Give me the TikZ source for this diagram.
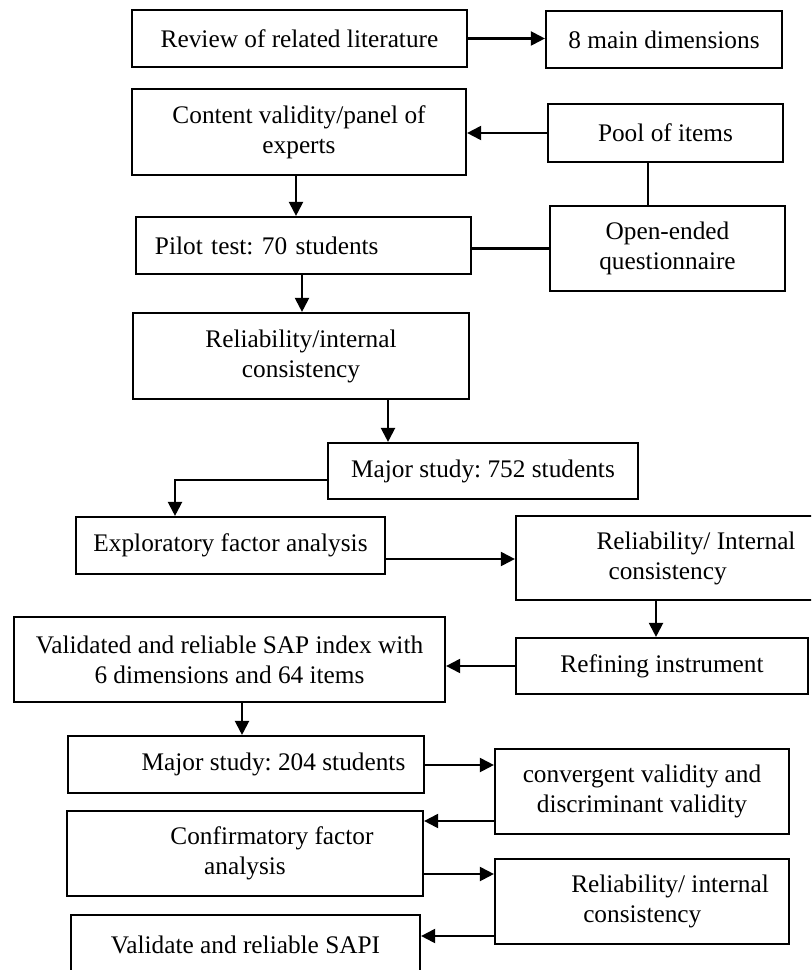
\documentclass[tikz,border=0pt]{standalone}
\usepackage{fontspec}
\setmainfont{Liberation Serif}
\usetikzlibrary{arrows.meta}
\newcommand{\recuo}{\hspace*{1.4cm}}

\begin{document}
\begin{tikzpicture}[
    x=0.025cm, y=-0.025cm,
    every node/.style={font=\fontsize{18}{21.3}\selectfont\frenchspacing},
    caixa/.style={draw, line width=1.5pt, inner sep=2pt, align=center},
    seta/.style={-{Triangle[length=10pt,width=10pt]}, line width=1.5pt},
    ligacao/.style={line width=1.5pt}
]
\useasboundingbox (0,0) rectangle (811,970);
\clip (0,0) rectangle (811,970);

% Revisao da literatura
\node[caixa, minimum width=8.375cm, minimum height=1.425cm] (revisao) at (299.5,38.5) {Review of related literature};
\node[caixa, minimum width=5.9cm, minimum height=1.425cm] (dimensoes) at (664,39.5) {8 main dimensions};
\draw[seta] (revisao.east) -- (revisao.east -| dimensoes.west);

% Validade de conteudo e teste piloto
\node[caixa, minimum width=8.35cm, minimum height=2.15cm] (conteudo) at (299,132) {Content validity/panel of\\experts};
\node[caixa, minimum width=5.875cm, minimum height=1.45cm] (itens) at (665.5,133) {Pool of items};
\node[caixa, minimum width=5.875cm, minimum height=2.125cm] (aberto) at (667.5,248.5) {Open-ended\\questionnaire};
\node[caixa, text width=7.425cm, inner xsep=0.475cm, align=left, minimum height=1.425cm] (piloto) at (303.5,245.5) {Pilot test: 70 students};
\node[caixa, minimum width=8.4cm, minimum height=2.15cm] (fiab) at (301,356) {Reliability/internal\\consistency};

\draw[seta] (itens.west) -- (itens.west -| conteudo.east);
\draw[ligacao] (itens.south -| 648,0) -- (aberto.north -| 648,0);
\draw[ligacao] (aberto.west) -- (aberto.west -| piloto.east);
\draw[seta] (conteudo.south -| 296,0) -- (piloto.north -| 296,0);
\draw[seta] (piloto.south -| 302,0) -- (fiab.north -| 302,0);

% Estudo principal: 752
\node[caixa, minimum width=7.75cm, minimum height=1.4cm] (estudo752) at (483,471) {Major study: 752 students};
\node[caixa, minimum width=7.725cm, minimum height=1.425cm] (efa) at (230.5,545.5) {Exploratory factor analysis};
\node[caixa, align=left, minimum width=9cm, minimum height=2.1cm] (fiab2) at (696,558) {Reliability/ Internal\\\hspace*{0.3cm}consistency};
\node[caixa, minimum width=7.3cm, minimum height=1.4cm] (refinar) at (662,666) {Refining instrument};
\node[caixa, minimum width=10.775cm, minimum height=2.125cm] (indice) at (229.5,659.5) {Validated and reliable SAP index with\\6 dimensions and 64 items};

\draw[seta] (fiab.south -| 388,0) -- (estudo752.north -| 388,0);
\draw[seta] (estudo752.west |- 0,480) -| (efa.north -| 175,0);
\draw[seta] (efa.east |- 0,559) -- (fiab2.west |- 0,559);
\draw[seta] (fiab2.south -| 656,0) -- (refinar.north -| 656,0);
\draw[seta] (refinar.west) -- (refinar.west -| indice.east);

% Estudo principal: 204
\node[caixa, minimum width=8.9cm, minimum height=1.425cm] (estudo204) at (246,764.5) {\hspace*{1.375cm}Major study: 204 students};
\node[caixa, minimum width=7.35cm, minimum height=2.125cm] (convergente) at (642,791.5) {convergent validity and\\discriminant validity};
\node[caixa, minimum width=8.9cm, minimum height=2.125cm] (cfa) at (245,853.5) {\hspace*{1.35cm}Confirmatory factor\\analysis};
\node[caixa, align=left, minimum width=7.35cm, minimum height=2.125cm] (fiab3) at (642,901.5) {\recuo Reliability/ internal\\\recuo\hspace*{0.3cm}consistency};
\node[caixa, minimum width=8.725cm, minimum height=1.5cm] (sapi) at (245.5,945) {Validate and reliable SAPI};

\draw[seta] (indice.south -| 242,0) -- (estudo204.north -| 242,0);
\draw[seta] (estudo204.east |- 0,765) -- (convergente.west |- 0,765);
\draw[seta] (convergente.west |- 0,821) -- (cfa.east |- 0,821);
\draw[seta] (cfa.east |- 0,874) -- (fiab3.west |- 0,874);
\draw[seta] (fiab3.west |- 0,936) -- (sapi.east |- 0,936);

\end{tikzpicture}
\end{document}
